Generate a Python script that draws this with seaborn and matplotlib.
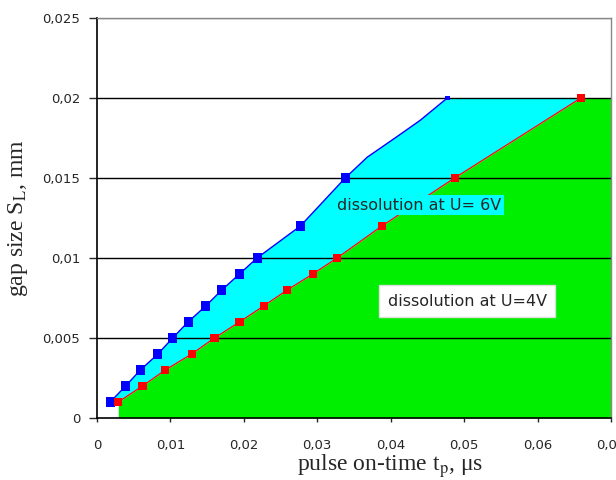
import matplotlib
matplotlib.use("Agg")
import matplotlib.pyplot as plt
import seaborn as sns

# pulse on-time (us) and gap size (mm)
t_6v = [0.0018, 0.0039, 0.0059, 0.0083, 0.0103, 0.0124, 0.0148, 0.0170, 0.0194, 0.0218,
        0.0277, 0.0338, 0.0368, 0.0409, 0.0440, 0.0477]
s_6v = [0.001, 0.002, 0.003, 0.004, 0.005, 0.006, 0.007, 0.008, 0.009, 0.010,
        0.012, 0.015, 0.0163, 0.0176, 0.0186, 0.020]
t_6v_marks = [0.0018, 0.0039, 0.0059, 0.0083, 0.0103, 0.0124, 0.0148, 0.0170, 0.0194, 0.0218,
              0.0277, 0.0338]
s_6v_marks = [0.001, 0.002, 0.003, 0.004, 0.005, 0.006, 0.007, 0.008, 0.009, 0.010,
              0.012, 0.015]

t_4v = [0.0029, 0.0062, 0.0093, 0.0129, 0.0160, 0.0194, 0.0227, 0.0259, 0.0294, 0.0327,
        0.0388, 0.0487, 0.0659]
s_4v = [0.001, 0.002, 0.003, 0.004, 0.005, 0.006, 0.007, 0.008, 0.009, 0.010,
        0.012, 0.015, 0.020]

x_ticks = [0, 0.01, 0.02, 0.03, 0.04, 0.05, 0.06, 0.07]
x_labels = ["0", "0,01", "0,02", "0,03", "0,04", "0,05", "0,06", "0,07"]
y_ticks = [0, 0.005, 0.01, 0.015, 0.02, 0.025]
y_labels = ["0", "0,005", "0,01", "0,015", "0,02", "0,025"]

sns.set_style("white")
plt.rcParams["mathtext.fontset"] = "stix"

fig = plt.figure(figsize=(6.16, 4.8), dpi=100)
ax = fig.add_axes([97 / 616, 62 / 480, 514 / 616, 400 / 480])

# regions: cyan between the two boundaries, green under the 4V boundary
ax.fill(t_6v + [t_4v[-1]] + t_4v[::-1], s_6v + [s_4v[-1]] + s_4v[::-1],
        color="#00ffff", lw=0, zorder=1)
ax.fill_between(t_4v + [x_ticks[-1]], 0, s_4v + [s_4v[-1]], color="#00ee00", lw=0, zorder=1)

# horizontal grid lines
for y in y_ticks[1:]:
    ax.axhline(y, color="#888888" if y == y_ticks[-1] else "black", lw=1, zorder=1.5)

sns.lineplot(x=t_6v, y=s_6v, sort=False, color="blue", lw=1, ax=ax, zorder=3)
sns.scatterplot(x=t_6v_marks + [t_6v[-1]], y=s_6v_marks + [s_6v[-1]], marker="s",
                s=[42] * len(t_6v_marks) + [12], color="blue", edgecolor="none", ax=ax, zorder=4)
sns.lineplot(x=t_4v, y=s_4v, sort=False, color="red", lw=0.9, ax=ax, zorder=3)
sns.scatterplot(x=t_4v, y=s_4v, marker="s", s=34, color="red", edgecolor="none", ax=ax, zorder=4)

ax.text(0.0327, 0.0133, "dissolution at U= 6V", fontsize=11.5, va="center", ha="left",
        bbox=dict(facecolor="#00ffff", edgecolor="none", pad=2), zorder=5)
ax.text(0.0504, 0.0073, "dissolution at U=4V", fontsize=11.5, va="center", ha="center",
        bbox=dict(facecolor="white", edgecolor="#dddddd", pad=6), zorder=5)

ax.set_xlim(0, 0.07)
ax.set_ylim(0, 0.025)
ax.set_xticks(x_ticks)
ax.set_xticklabels(x_labels)
ax.set_yticks(y_ticks)
ax.set_yticklabels(y_labels)
ax.tick_params(axis="x", direction="out", length=3, width=1, pad=12, labelsize=9.5, bottom=True)
ax.tick_params(axis="y", direction="out", length=6, width=1, pad=6, labelsize=9.5, left=True)

for side in ["left", "bottom"]:
    ax.spines[side].set_color("black")
    ax.spines[side].set_linewidth(1.2)
for side in ["top", "right"]:
    ax.spines[side].set_color("#888888")
    ax.spines[side].set_linewidth(1)

ax.set_xlabel(r"pulse on-time t$_{\rm p}$, μs", fontsize=17, family="Liberation Serif")
ax.xaxis.set_label_coords(0.57, -0.085)
ax.set_ylabel(r"gap size S$_{\rm L}$, mm", fontsize=17, family="Liberation Serif")
ax.yaxis.set_label_coords(-0.13, 0.5)

fig.savefig("out.png", dpi=100)
